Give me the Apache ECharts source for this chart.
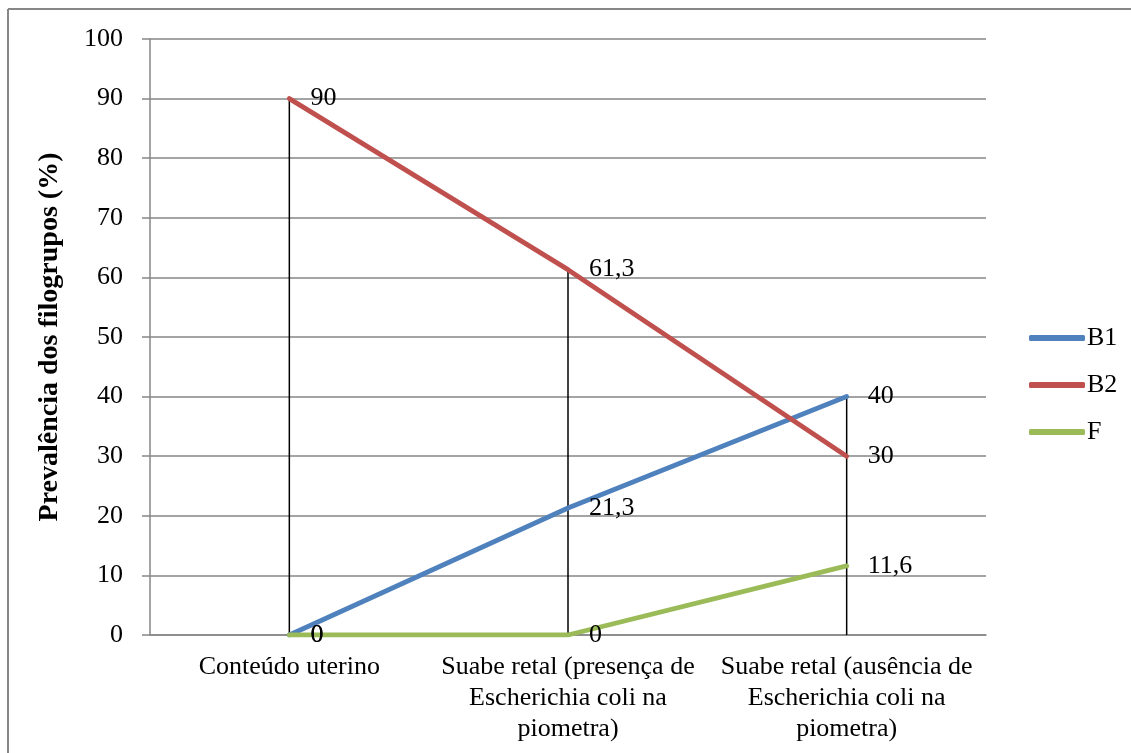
<!DOCTYPE html>
<html>
<head>
<meta charset="utf-8">
<script src="https://cdn.jsdelivr.net/npm/echarts@6/dist/echarts.min.js"></script>
<style>
  html, body { margin: 0; padding: 0; background: #ffffff; }
  #chart { width: 1131px; height: 753px; }
</style>
</head>
<body>
<div id="chart"></div>
<script>
// Prevalence of E. coli phylogroups by sample source
const categories = [
  'Conteúdo uterino',
  'Suabe retal (presença de\nEscherichia coli na\npiometra)',
  'Suabe retal (ausência de\nEscherichia coli na\npiometra)'
];
const seriesNames = ['B1', 'B2', 'F'];
const valuesB1 = [0, 21.3, 40];
const valuesB2 = [90, 61.3, 30];
const valuesF = [0, 0, 11.6];
const yTicks = [0, 10, 20, 30, 40, 50, 60, 70, 80, 90, 100];

const colors = ['#4F81BD', '#C0504D', '#9BBB59'];
const FONT = '"Liberation Serif", "Times New Roman", serif';

// Drop lines run from the highest point in each category down to the axis
const dropTop = categories.map((_, i) => Math.max(valuesB1[i], valuesB2[i], valuesF[i]));

const fmt = (p) => String(p.value).replace('.', ',');

function lineSeries(name, data, color) {
  return {
    name: name,
    type: 'line',
    data: data,
    z: 3,
    symbol: 'circle',
    symbolSize: 0.1,
    showAllSymbol: true,
    lineStyle: { color: color, width: 4.8, cap: 'round' },
    itemStyle: { color: color },
    label: {
      show: true,
      position: 'right',
      distance: 21,
      formatter: fmt,
      color: '#000',
      fontFamily: FONT,
      fontSize: 26
    }
  };
}

const chart = echarts.init(document.getElementById('chart'), null, { renderer: 'canvas' });
chart.setOption({
  animation: false,
  backgroundColor: '#ffffff',
  textStyle: { fontFamily: FONT },
  graphic: [
    { type: 'line', shape: { x1: 8, y1: 9, x2: 1131, y2: 9 }, style: { stroke: '#878787', lineWidth: 2 }, silent: true },
    { type: 'line', shape: { x1: 8, y1: 9, x2: 8, y2: 753 }, style: { stroke: '#878787', lineWidth: 2 }, silent: true }
  ],
  grid: { left: 150, top: 39, width: 836, height: 596, containLabel: false },
  legend: {
    orient: 'vertical',
    left: 1024,
    top: 318,
    icon: 'roundRect',
    itemWidth: 56,
    itemHeight: 6,
    itemGap: 17,
    textStyle: { fontFamily: FONT, fontSize: 26, color: '#000', lineHeight: 30, padding: [0, 0, 0, -3] },
    data: seriesNames
  },
  xAxis: {
    type: 'category',
    data: categories,
    boundaryGap: true,
    axisLine: { lineStyle: { color: '#868686', width: 1.5 } },
    axisTick: { show: false },
    axisLabel: {
      color: '#000',
      fontFamily: FONT,
      fontSize: 26,
      lineHeight: 31,
      margin: 17,
      interval: 0,
      align: 'center'
    },
    splitLine: { show: false }
  },
  yAxis: {
    type: 'value',
    min: yTicks[0],
    max: yTicks[yTicks.length - 1],
    interval: 10,
    name: 'Prevalência dos filogrupos (%)',
    nameLocation: 'middle',
    nameGap: 86,
    nameTextStyle: { fontFamily: FONT, fontSize: 28, fontWeight: 'bold', color: '#000' },
    axisLine: { show: true, lineStyle: { color: '#868686', width: 1.5 } },
    axisTick: { show: true, length: 8, lineStyle: { color: '#868686', width: 1.5 } },
    axisLabel: { color: '#000', fontFamily: FONT, fontSize: 26, margin: 27 },
    splitLine: { lineStyle: { color: '#868686', width: 1.5 } }
  },
  series: [
    {
      name: 'drop',
      type: 'custom',
      z: 1,
      silent: true,
      data: dropTop.map((v, i) => [i, v]),
      renderItem: function (params, api) {
        const top = api.coord([api.value(0), api.value(1)]);
        const bottom = api.coord([api.value(0), 0]);
        return {
          type: 'line',
          shape: { x1: top[0], y1: top[1], x2: bottom[0], y2: bottom[1] },
          style: { stroke: '#000', lineWidth: 1.5 }
        };
      }
    },
    lineSeries('B1', valuesB1, colors[0]),
    lineSeries('B2', valuesB2, colors[1]),
    lineSeries('F', valuesF, colors[2])
  ]
});
</script>
</body>
</html>
